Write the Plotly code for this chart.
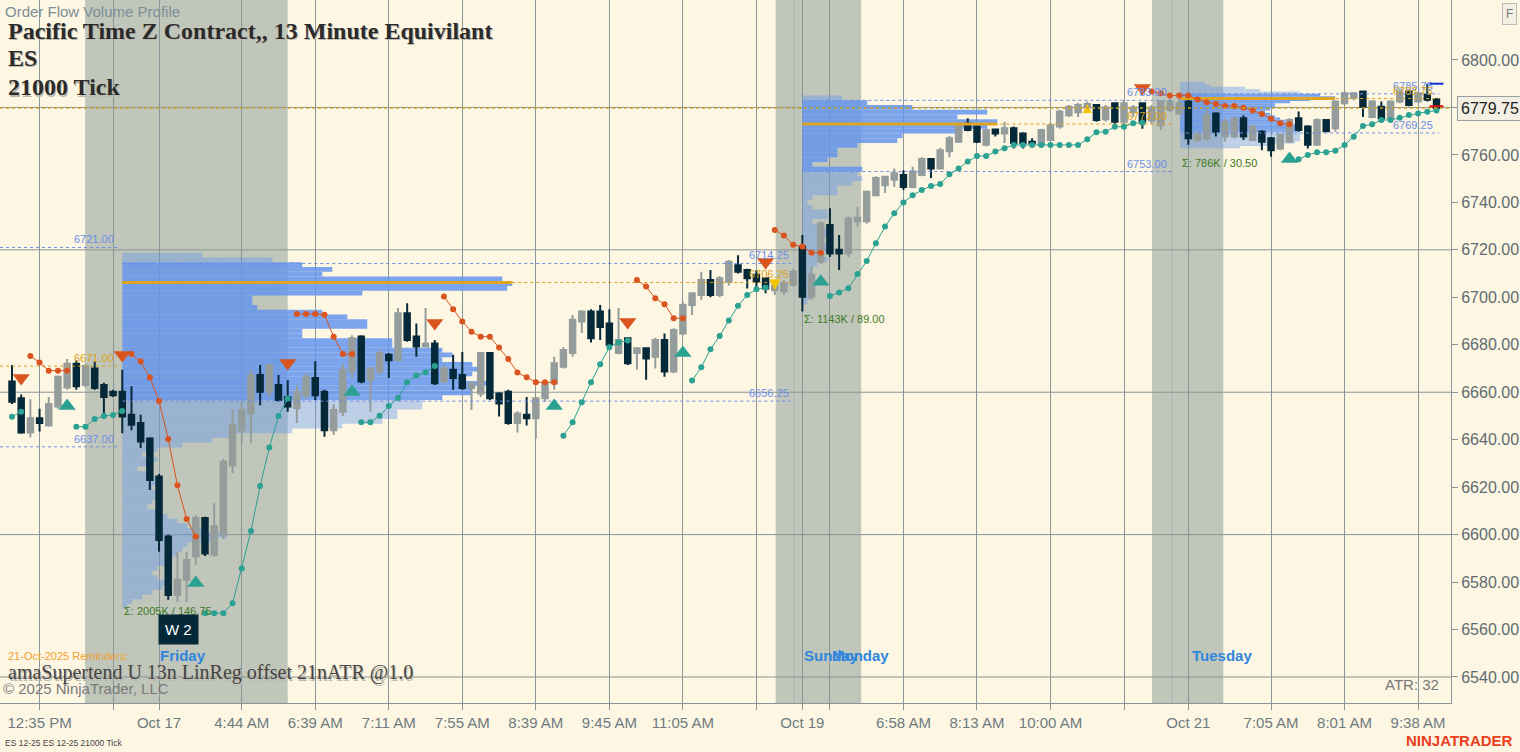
import plotly.graph_objects as go

# ES 12-25, 21000 tick bars, left to right
opens = [6664.5, 6657.5, 6643, 6649, 6646, 6654, 6662, 6672, 6663, 6670,
         6663, 6660.25, 6660.25, 6650.5, 6647, 6640.5, 6624.5, 6599.25, 6574.5, 6581,
         6590.75, 6607, 6591.5, 6600, 6629.25, 6644, 6651, 6667.25, 6660.25, 6663,
         6658, 6653.25, 6658.75, 6666, 6660.25, 6644, 6651.75, 6668.75, 6683.5, 6665.25,
         6668.75, 6675.75, 6673.5, 6693.25, 6683.5, 6679.25, 6680.5, 6664.5, 6669.5, 6667.25,
         6661.75, 6659.5, 6676.5, 6659.5, 6660.25, 6647, 6650.5, 6649, 6657.5, 6663.75,
         6670.75, 6676.5, 6689.75, 6694, 6694, 6689, 6676.5, 6682.75, 6676.5, 6678.5,
         6675, 6682, 6668.75, 6684.75, 6696.75, 6701, 6707.25, 6701, 6706.5, 6713.5,
         6711.5, 6709.5, 6708, 6703, 6702.5, 6705.25, 6721.25, 6700.25, 6715, 6730.5,
         6720, 6718.5, 6732, 6732, 6743, 6747.25, 6749.5, 6751.5, 6746.5, 6751.5,
         6758.25, 6754.25, 6761.5, 6765.5, 6773.25, 6772, 6764.25, 6770.75, 6769, 6771.25,
         6769, 6765.5, 6764.25, 6766.25, 6772, 6776.75, 6778, 6780, 6781, 6775,
         6781.75, 6774, 6778, 6781.75, 6774.5, 6772.5, 6779, 6777.5, 6782.5, 6766.25,
         6767, 6777.5, 6767.75, 6767.75, 6775.5, 6766.25, 6769.75, 6767, 6762.75, 6765.5,
         6775.5, 6772, 6764.25, 6774.75, 6771.25, 6781.75, 6784, 6786.75, 6776, 6780.25,
         6775.5, 6782.5, 6786.75, 6782.5, 6785.5, 6783.5]
highs = [6671.5, 6659, 6657, 6653, 6658, 6667, 6674, 6673.5, 6672, 6673,
         6664, 6661, 6669.5, 6662.5, 6650.5, 6641, 6625.5, 6600, 6592.75, 6592.75,
         6608.25, 6607.5, 6613.25, 6632, 6652.5, 6656, 6669.5, 6671.5, 6672.25, 6667.25,
         6665, 6663, 6668, 6673, 6661, 6655, 6672.25, 6684, 6684, 6670.5,
         6677.75, 6676.5, 6695.5, 6697.5, 6689, 6695.5, 6682, 6671.5, 6675.75, 6677,
         6664, 6677, 6677, 6660, 6661, 6652, 6658, 6658, 6665, 6675,
         6679, 6692.5, 6694.5, 6695, 6696.75, 6695, 6695.5, 6683, 6679, 6679,
         6683, 6684.75, 6687, 6698, 6702, 6710.75, 6711.5, 6709, 6715.75, 6717.75,
         6712, 6711.5, 6708.5, 6706, 6707.25, 6712, 6726.25, 6713, 6732, 6737.5,
         6726.25, 6734, 6738, 6745, 6751, 6751, 6754.25, 6753.5, 6755, 6759,
         6758.5, 6763, 6768, 6774, 6775.5, 6772.5, 6771, 6771, 6774, 6772,
         6769.5, 6767, 6771, 6773.5, 6779, 6781, 6782, 6782.5, 6781.5, 6781,
         6782, 6783, 6781, 6782, 6781, 6783, 6783.5, 6784, 6784, 6769.75,
         6779, 6778, 6775.5, 6776, 6776.75, 6772.5, 6770.5, 6767.5, 6769, 6775.5,
         6778.25, 6772.5, 6775.5, 6775, 6783, 6786.75, 6786.5, 6787, 6783, 6782.5,
         6783, 6788, 6787, 6786.5, 6790, 6784]
lows = [6655, 6642.5, 6641, 6643.5, 6645.5, 6653, 6661, 6661, 6662, 6661,
        6651, 6658, 6642.75, 6644, 6636.5, 6618.75, 6592.75, 6572.5, 6571.75, 6571.75,
        6587.25, 6591, 6590.75, 6598, 6625.75, 6638.5, 6638.5, 6654.5, 6658, 6656,
        6651.75, 6647, 6657, 6656.75, 6641.25, 6642, 6650, 6666, 6663.75, 6651.75,
        6667.25, 6666, 6673, 6681.25, 6675, 6679, 6663, 6663.75, 6661, 6661,
        6652.5, 6658, 6656.75, 6649.75, 6646.25, 6643, 6646, 6640.5, 6656, 6661,
        6670, 6675, 6685, 6681, 6682, 6679, 6676, 6671.5, 6669.5, 6665.25,
        6670, 6666.5, 6668, 6684, 6692.5, 6699, 6700, 6700, 6705, 6710,
        6703.75, 6703, 6701.75, 6701, 6701, 6704.5, 6694, 6699, 6714, 6717,
        6711.5, 6717, 6729.75, 6731, 6743, 6744, 6746.5, 6745.25, 6746, 6751,
        6750.25, 6754, 6759, 6765, 6770, 6765, 6763.5, 6767.75, 6765, 6762.75,
        6762.75, 6764, 6763, 6766, 6771, 6776, 6776, 6779, 6774, 6774,
        6773, 6772.5, 6776, 6771, 6773, 6770.5, 6778, 6777, 6764.25, 6765.5,
        6766, 6767.75, 6765.5, 6767, 6766.25, 6766, 6762, 6759.25, 6762, 6765,
        6769.75, 6762.75, 6764, 6769.75, 6769.75, 6781, 6783, 6776, 6775.5, 6774.75,
        6775, 6781.75, 6780.5, 6782, 6782.5, 6778.5]
closes = [6656, 6643, 6649, 6647, 6655, 6666.5, 6672, 6662.5, 6671, 6661.75,
          6658, 6658.75, 6649.75, 6646.25, 6639.25, 6623, 6597.75, 6574.5, 6581, 6589.25,
          6607, 6592, 6603.5, 6630.75, 6646.25, 6652.5, 6667.25, 6660.25, 6671.5, 6656.75,
          6654, 6660.25, 6666.5, 6658.75, 6644, 6652.5, 6669.5, 6682.75, 6664.5, 6670,
          6676.5, 6673.5, 6693.25, 6682, 6679.25, 6680.5, 6663.75, 6670, 6666, 6661.75,
          6663.75, 6676.5, 6657.5, 6655.25, 6647, 6651, 6649, 6657.5, 6663.75, 6672.25,
          6677.75, 6690.5, 6694, 6682.75, 6687.5, 6680, 6682, 6672.25, 6678.5, 6674.25,
          6682, 6668.75, 6686.25, 6696.75, 6701.75, 6707.25, 6701, 6708, 6715, 6710.75,
          6708, 6706.5, 6703.75, 6705, 6706, 6710.75, 6700.25, 6709.5, 6731.25, 6718.5,
          6718.5, 6733.25, 6733.5, 6744.5, 6750.25, 6750.75, 6752.25, 6746.5, 6753, 6758.25,
          6754.25, 6762, 6767, 6773.25, 6770.5, 6765.5, 6770.5, 6769, 6771.25, 6765,
          6765, 6765, 6770.5, 6772.5, 6778.25, 6780.25, 6781, 6781.5, 6774.75, 6780,
          6774, 6781.75, 6780, 6774, 6780, 6782.5, 6782.5, 6781.75, 6767, 6768.5,
          6776.75, 6769.75, 6774, 6775.5, 6767.75, 6772, 6765.5, 6762, 6768.5, 6774.75,
          6770.5, 6764.25, 6774.75, 6770, 6782.5, 6786, 6786, 6780.25, 6782.5, 6775.5,
          6782.5, 6786.75, 6781, 6786, 6783.25, 6779.75]
bars = list(range(len(closes)))
last_price = 6779.75

tick_bars = [3, 11, 16, 25, 33, 41, 49, 57, 65, 73, 81, 86, 89, 97, 105, 113, 121, 128, 137, 145, 153]
tick_text = ["12:35 PM", "", "Oct 17", "4:44 AM", "6:39 AM", "7:11 AM", "7:55 AM", "8:39 AM",
             "9:45 AM", "11:05 AM", "", "Oct 19", "", "6:58 AM", "8:13 AM", "10:00 AM", "",
             "Oct 21", "7:05 AM", "8:01 AM", "9:38 AM"]
price_ticks = [6540, 6560, 6580, 6600, 6620, 6640, 6660, 6680, 6700, 6720, 6740, 6760, 6780, 6800]
grid_prices = [6540, 6600, 6660, 6720, 6780]

# overnight sessions (bar units)
session_start = [7.95, 83.1, 124.05]
session_end = [30.0, 92.4, 131.8]
session_breaks = [85.1, 126.2]

day_names = ["Friday", "Sunday", "Monday", "Tuesday"]
day_bars = [15.9, 86.0, 89.0, 128.2]

# supertrend: (first bar, values)
st_up_segments = [
    (0, [6649.7, 6651.8]),
    (7, [6645.5, 6645.5, 6648.7, 6650.0, 6650.4, 6652.1]),
    (21, [6566.9, 6566.9, 6566.9, 6571.1, 6585.7, 6601.5, 6620.5, 6636.7, 6650.0, 6657.4]),
    (38, [6647.3, 6647.3, 6650.1, 6654.2, 6657.6, 6664.2, 6667.0, 6668.4, 6671.1]),
    (60, [6641.7, 6647.3, 6655.8, 6664.2, 6671.8, 6679.0, 6680.9, 6681.8]),
    (74, [6664.9, 6670.5, 6678.1, 6683.7, 6690.2, 6696.4, 6701.0, 6703.4, 6704.1]),
    (89, [6700.6, 6702.0, 6703.8, 6709.8, 6715.3, 6722.8, 6729.8, 6735.4, 6740.0, 6743.0,
          6745.2, 6746.9, 6747.7, 6751.8, 6754.3, 6757.2, 6759.5, 6759.5, 6761.4, 6762.8,
          6764.2, 6764.2, 6764.2, 6764.2, 6764.2, 6764.2, 6764.2, 6764.2, 6766.6, 6769.5,
          6769.8, 6771.9, 6771.9, 6773.3, 6773.6]),
    (140, [6758.2, 6760.0, 6761.1, 6761.1, 6761.8, 6764.2, 6767.7, 6772.2, 6772.9, 6774.7,
           6774.7, 6775.7, 6776.8, 6777.5, 6778.2, 6778.7]),
]
st_dn_segments = [
    (2, [6675.3, 6672.5, 6669.1, 6669.1, 6669.1]),
    (13, [6676.1, 6672.9, 6666.2, 6656.3, 6640.3, 6620.8, 6606.6, 6599.2]),
    (31, [6693.0, 6693.0, 6693.0, 6692.6, 6683.4, 6676.1, 6676.1]),
    (47, [6700.3, 6695.0, 6689.8, 6685.5, 6683.4, 6683.4, 6678.8, 6674.0, 6668.3, 6666.3,
          6664.2, 6664.2, 6664.2]),
    (68, [6707.3, 6704.5, 6699.6, 6697.1, 6691.2, 6691.2]),
    (83, [6728.4, 6726.0, 6722.1, 6721.4, 6718.8, 6718.8]),
    (124, [6786.7, 6786.0, 6785.0, 6785.0, 6785.0, 6783.4, 6782.2, 6781.5, 6780.6, 6780.6,
           6779.9, 6778.7, 6777.2, 6775.2, 6773.3, 6772.9]),
]
up_flip_bars = [6, 20, 37, 59, 73, 88, 139]
up_flip_prices = [6654.2, 6579.6, 6660.1, 6654.2, 6676.5, 6706.5, 6758.3]
dn_flip_bars = [1, 12, 30, 46, 67, 82, 123]
dn_flip_prices = [6666.0, 6675.7, 6672.3, 6689.2, 6689.6, 6714.9, 6788.2]

signal_up_bars = [117]
signal_up_prices = [6781.5]
signal_dn_bars = [83]
signal_dn_prices = [6703.0]

# volume profiles (K contracts per price row)
p1_levels = list(range(6718, 6568, -2))
p1_vol = [16, 30, 36, 42, 40, 76, 78, 77, 48, 26,
          26, 27, 40, 45, 49, 49, 36, 36, 54, 54,
          64, 66, 64, 70, 71, 70, 68, 74, 70, 70,
          64, 60, 60, 55, 55, 52, 44, 34, 22, 18,
          12, 7, 4, 7, 6, 3, 6, 7, 8, 6,
          7, 8, 6, 5, 7, 9, 11, 13, 16, 21,
          18, 13, 12, 11, 10, 9, 7, 6, 7, 9,
          8, 6, 4, 2, 1]
p2_levels = list(range(6784, 6696, -2))
p2_vol = [8, 13, 22, 37, 31, 39, 37, 32, 20, 19,
          11, 7, 7, 5, 2, 12, 11, 12, 10, 7,
          7, 2, 1, 2, 5, 5, 2, 4, 5, 5,
          4, 6, 5, 4, 5, 3, 2, 2, 1, 3,
          2, 1, 2, 1]
p3_levels = list(range(6790, 6762, -1))
p3_vol = [5, 6, 13, 16, 24, 28, 31, 26, 22, 19,
          19, 18, 17, 18, 19, 20, 21, 22, 23, 24,
          24, 24, 24, 24, 24, 23, 18, 12]
profile_levels = [p1_levels, p2_levels, p3_levels]
profile_vols = [p1_vol, p2_vol, p3_vol]
profile_start = [12.0, 86.0, 127.1]
profile_row = [2, 2, 1]
sigma_text = ["Σ: 2005K / 146.75", "Σ: 1143K / 89.00", "Σ: 786K / 30.50"]
sigma_y = [6567.8, 6690.9, 6756.6]

# value area / poc levels, first one is the session before the chart start
prof_vah = [6721.00, 6714.25, 6783.00, 6785.75]
prof_poc = [6671.00, 6706.25, 6773.00, 6783.75]
prof_val = [6637.00, 6656.25, 6753.00, 6769.25]
level_x0 = [-1.3, 12.0, 86.0, 127.1]
level_x1 = [11.8, 85.2, 126.3, 155.3]

BG = '#FDF6E3'
DARK = '#06293A'
GREY = '#959D9C'
ORANGE = '#D9541E'
TEAL = '#2BA192'
GOLD = '#D9A21B'
BLUE = '#6C8EE8'
GRID = '#8A9597'
SHADE = '#C0C6BA'
SANS = 'Liberation Sans, Arial, sans-serif'
SERIF = 'Liberation Serif, DejaVu Serif, serif'
VOL_SCALE = 5 / 9.19


def expand(segments):
    out = [None] * len(bars)
    for first, vals in segments:
        for k, v in enumerate(vals):
            out[first + k] = v
    return out


fig = go.Figure()

# session shading and horizontal grid
for s0, s1 in zip(session_start, session_end):
    fig.add_vrect(x0=s0, x1=s1, fillcolor=SHADE, line_width=0, layer='below')
for sb in session_breaks:
    fig.add_vline(x=sb, line=dict(color='#AEB6B0', width=1), layer='below')
for gp in grid_prices:
    fig.add_hline(y=gp, line=dict(color=GRID, width=1), layer='below')

# volume profiles
for i in range(3):
    lv = profile_levels[i]
    vol = profile_vols[i]
    va_hi, va_lo = prof_vah[i + 1], prof_val[i + 1]
    colors = ['rgba(100,149,237,0.85)' if va_lo <= p <= va_hi else 'rgba(100,149,237,0.42)'
              for p in lv]
    fig.add_bar(
        y=lv, x=[v * VOL_SCALE for v in vol], base=profile_start[i], orientation='h',
        width=profile_row[i], marker=dict(color=colors, line=dict(width=0)),
        hoverinfo='skip'
    )
    poc_len = max(vol) * VOL_SCALE
    fig.add_scatter(
        x=[profile_start[i], profile_start[i] + poc_len], y=[prof_poc[i + 1]] * 2,
        mode='lines', line=dict(color='#E0A526', width=3), hoverinfo='skip'
    )

# value area / poc dotted lines
for i in range(4):
    for lvl, col in ((prof_vah[i], BLUE), (prof_poc[i], GOLD), (prof_val[i], BLUE)):
        fig.add_scatter(
            x=[level_x0[i], level_x1[i]], y=[lvl, lvl], mode='lines',
            line=dict(color=col, width=1, dash='dot'), hoverinfo='skip'
        )
        fig.add_annotation(
            x=level_x1[i], y=lvl, xref='x', yref='y', text=f'{lvl:.2f}',
            showarrow=False, xanchor='right', yanchor='bottom', xshift=-4,
            font=dict(family=SANS, size=11, color=col)
        )

# last price line
fig.add_hline(y=last_price, line=dict(color='#C9A227', width=1.5, dash='dot'))

# candles
fig.add_trace(go.Candlestick(
    x=bars, open=opens, high=highs, low=lows, close=closes,
    increasing=dict(line=dict(color=GREY, width=2), fillcolor=GREY),
    decreasing=dict(line=dict(color=DARK, width=2), fillcolor=DARK),
    whiskerwidth=0, hoverinfo='skip'
))

# supertrend
fig.add_scatter(x=bars, y=expand(st_dn_segments), mode='lines+markers',
                line=dict(color=ORANGE, width=1), marker=dict(size=6, color=ORANGE),
                connectgaps=False, hoverinfo='skip')
fig.add_scatter(x=bars, y=expand(st_up_segments), mode='lines+markers',
                line=dict(color=TEAL, width=1), marker=dict(size=6, color=TEAL),
                connectgaps=False, hoverinfo='skip')
fig.add_scatter(x=dn_flip_bars, y=dn_flip_prices, mode='markers',
                marker=dict(symbol='triangle-down', size=15, color=ORANGE), hoverinfo='skip')
fig.add_scatter(x=up_flip_bars, y=up_flip_prices, mode='markers',
                marker=dict(symbol='triangle-up', size=15, color=TEAL), hoverinfo='skip')
fig.add_scatter(x=signal_up_bars, y=signal_up_prices, mode='markers',
                marker=dict(symbol='arrow-up', size=9, color='#F5C400'), hoverinfo='skip')
fig.add_scatter(x=signal_dn_bars, y=signal_dn_prices, mode='markers',
                marker=dict(symbol='arrow-down', size=11, color='#F5C400'), hoverinfo='skip')
fig.add_scatter(x=[bars[-1]], y=[highs[-1] + 6], mode='markers',
                marker=dict(symbol='line-ew', size=10, line=dict(color='#1030E0', width=2)),
                hoverinfo='skip')
fig.add_scatter(x=[bars[-1]], y=[last_price + 0.75], mode='markers',
                marker=dict(symbol='line-ew', size=10, line=dict(color='#E01010', width=2)),
                hoverinfo='skip')

# session labels
for i in range(3):
    fig.add_annotation(x=profile_start[i], y=sigma_y[i], text=sigma_text[i], showarrow=False,
                       xanchor='left', yanchor='middle',
                       font=dict(family=SANS, size=11, color='#3C7A23'))
for name, b in zip(day_names, day_bars):
    fig.add_annotation(x=b, y=0.067, yref='paper', text=f'<b>{name}</b>', showarrow=False,
                       xanchor='left', yanchor='middle',
                       font=dict(family=SANS, size=15, color='#2E86DE'))
fig.add_annotation(x=15.9, y=6560, text='W 2', showarrow=False, xanchor='left', yanchor='middle',
                   bgcolor=DARK, borderpad=6, font=dict(family=SANS, size=15, color='white'))


# chart texts
def paper_text(txt, x, y, size, color, family=SANS, anchor='left', shadow=False):
    if shadow:
        fig.add_annotation(x=x, y=y, xref='paper', yref='paper', text=txt, showarrow=False,
                           xanchor=anchor, yanchor='middle', xshift=1.5, yshift=-1.5,
                           font=dict(family=family, size=size, color='#BDB8AC'))
    fig.add_annotation(x=x, y=y, xref='paper', yref='paper', text=txt, showarrow=False,
                       xanchor=anchor, yanchor='middle',
                       font=dict(family=family, size=size, color=color))


paper_text('Order Flow Volume Profile', 0.002, 0.983, 15, '#7E8E98')
paper_text('<b>Pacific Time Z Contract,, 13 Minute Equivilant</b>', 0.004, 0.956, 24, '#2B2B2B', SERIF, shadow=True)
paper_text('<b>ES</b>', 0.004, 0.918, 24, '#2B2B2B', SERIF, shadow=True)
paper_text('<b>21000 Tick</b>', 0.004, 0.876, 24, '#2B2B2B', SERIF, shadow=True)
paper_text('21-Oct-2025 Reminders:', 0.004, 0.067, 11, '#F0A030')
paper_text('amaSupertend U 13n LinReg offset 21nATR @1.0', 0.004, 0.043, 20, '#444444', SERIF, shadow=True)
paper_text('© 2025 NinjaTrader, LLC', 0.001, 0.020, 15, '#7A7A7A')
paper_text('ATR: 32', 0.993, 0.027, 15, '#777777', anchor='right')
paper_text('ES 12-25 ES 12-25 21000 Tick', 0.002, -0.057, 8.5, '#444444')
paper_text('<b>NINJATRADER</b>', 1.044, -0.054, 15, '#E8401C', anchor='right')

fig.add_annotation(x=1.035, y=0.996, xref='paper', yref='paper', text='F', showarrow=False,
                   xanchor='left', yanchor='top',
                   bgcolor='#F5F0E4', bordercolor='#BBBBBB', borderwidth=1, borderpad=3,
                   font=dict(family=SANS, size=12, color='#777777'))
fig.add_annotation(x=1.0, y=last_price, xref='paper', yref='y', text=f'{last_price:.2f}',
                   showarrow=False, xanchor='left', yanchor='middle', xshift=6,
                   bgcolor='#F3EFE2', bordercolor='#9AA0A0', borderwidth=1, borderpad=3,
                   font=dict(family=SANS, size=16, color='#222222'))

fig.update_layout(
    width=1520, height=752,
    margin=dict(l=0, r=69, t=0, b=49),
    paper_bgcolor=BG, plot_bgcolor=BG,
    showlegend=False,
    boxgap=0.15,
    xaxis=dict(
        range=[-1.306, 156.58], tickmode='array', tickvals=tick_bars, ticktext=tick_text,
        showgrid=True, gridcolor=GRID, gridwidth=1, zeroline=False,
        showline=True, linecolor='#8A9597', ticks='outside', ticklen=6, tickcolor='#8A9597',
        tickfont=dict(family=SANS, size=15, color='#6E7B80'),
        rangeslider=dict(visible=False)
    ),
    yaxis=dict(
        side='right', range=[6529.04, 6825.28], tickmode='array', tickvals=price_ticks,
        tickformat='.2f', showgrid=False, zeroline=False,
        showline=True, linecolor='#8A9597', ticks='outside', ticklen=6, tickcolor='#8A9597',
        tickfont=dict(family=SANS, size=16, color='#5F6B70')
    ),
)

fig.write_html("out.html", config={'displayModeBar': False},
               post_script="document.body.style.margin='0px';")
